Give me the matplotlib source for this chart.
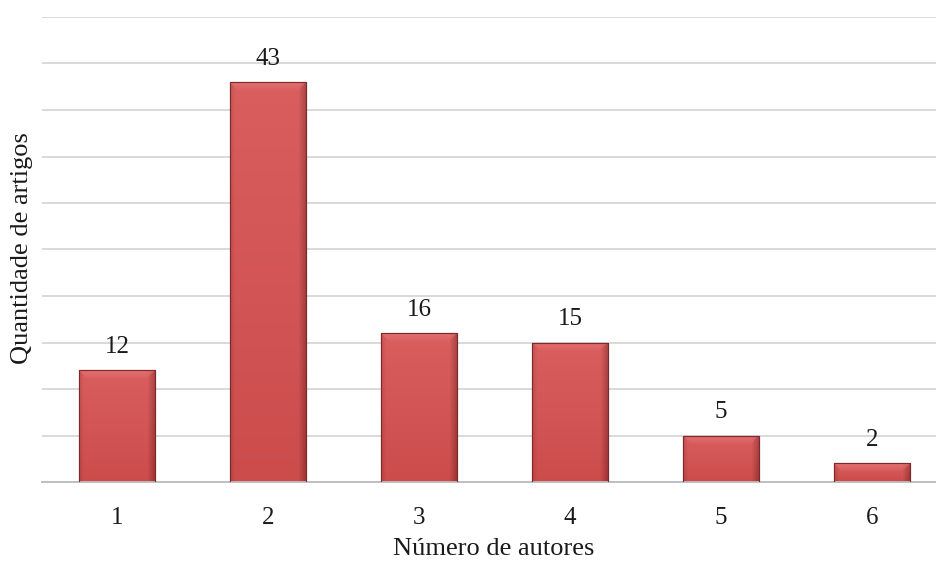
import numpy as np
import matplotlib
matplotlib.use("Agg")
import matplotlib.pyplot as plt

# Data
autores = ["1", "2", "3", "4", "5", "6"]
artigos = [12, 43, 16, 15, 5, 2]

plt.rcParams["font.family"] = ["Liberation Serif", "DejaVu Serif"]

W, H, DPI = 936, 561, 100
fig = plt.figure(figsize=(W / DPI, H / DPI), dpi=DPI)
ax = fig.add_axes([41.5 / W, 1 - 482 / H, 906 / W, 465 / H])

x = np.arange(len(autores))
ax.set_xlim(-0.5, len(autores) - 0.5)
ax.set_ylim(0, 50)

bars = ax.bar(x, artigos, width=0.5, color="#c94848", edgecolor="#7a2222",
              linewidth=0.8, zorder=2)

# shaded fill for each bar: darker sides, light bevel along the top
def bar_image(wpx, hpx):
    wpx, hpx = max(wpx, 2), max(hpx, 2)
    px = np.arange(wpx)
    # edge distances in pixels
    dl, dr = px, wpx - 1 - px
    base = np.array([204, 76, 76], dtype=float)
    row = np.tile(base, (wpx, 1))
    left = np.clip(1 - dl / 5.0, 0, 1)[:, None]
    right = np.clip(1 - dr / 7.0, 0, 1)[:, None]
    row = row * (1 - 0.35 * left) + np.array([150, 45, 45]) * 0.35 * left
    row = row * (1 - 0.6 * right) + np.array([130, 38, 38]) * 0.6 * right
    img = np.repeat(row[None, :, :], hpx, axis=0)
    # lighter toward the top of tall bars
    v = np.linspace(1.0, 0.0, hpx)[:, None, None]
    img = img + np.array([14, 18, 18]) * v
    # top bevel with mitred corners
    bev = min(9, hpx // 2)
    for r in range(bev):
        f = 1 - r / bev
        lo, hi = r, wpx - r
        seg = img[r, lo:hi]
        img[r, lo:hi] = seg * (1 - 0.5 * f) + np.array([236, 130, 130]) * 0.5 * f
    return np.clip(img / 255.0, 0, 1)

fig.canvas.draw()
for b in bars:
    x0, w, h = b.get_x(), b.get_width(), b.get_height()
    p0 = ax.transData.transform((x0, 0))
    p1 = ax.transData.transform((x0 + w, h))
    wpx, hpx = int(round(p1[0] - p0[0])), int(round(p1[1] - p0[1]))
    im = ax.imshow(bar_image(wpx, hpx), extent=(x0, x0 + w, 0, h),
                   aspect="auto", zorder=2.5, interpolation="bilinear")
    im.set_clip_path(b)
    ax.add_patch(plt.Rectangle((x0, 0), w, h, fill=False, edgecolor="#7a2a2a",
                               linewidth=0.8, zorder=3))
    ax.annotate(f"{h:g}", (x0 + w / 2, h), xytext=(0, 9),
                textcoords="offset points", ha="center", va="bottom",
                fontsize=18, color="#1a1a1a")

ax.set_aspect("auto")
ax.set_xlim(-0.5, len(autores) - 0.5)
ax.set_ylim(0, 50)

ax.set_yticks(np.arange(0, 51, 5))
ax.yaxis.grid(True, color="#d9d9d9", linewidth=1.4, zorder=0)
ax.set_axisbelow(True)
ax.tick_params(axis="y", left=False, labelleft=False)
ax.set_xticks(x)
ax.set_xticklabels(autores, fontsize=18, color="#1a1a1a")
ax.tick_params(axis="x", length=0, pad=18)

for s in ["top", "right", "left"]:
    ax.spines[s].set_visible(False)
ax.spines["bottom"].set_color("#bfbfbf")
ax.spines["bottom"].set_linewidth(1.4)

fig.text(494 / W, 1 - 549 / H, "Número de autores", ha="center", va="center",
         fontsize=19, color="#1a1a1a")
fig.text(22 / W, 1 - 248 / H, "Quantidade de artigos", rotation=90,
         ha="center", va="center", fontsize=19, color="#1a1a1a")

fig.savefig("out.png", dpi=DPI, facecolor="white")
